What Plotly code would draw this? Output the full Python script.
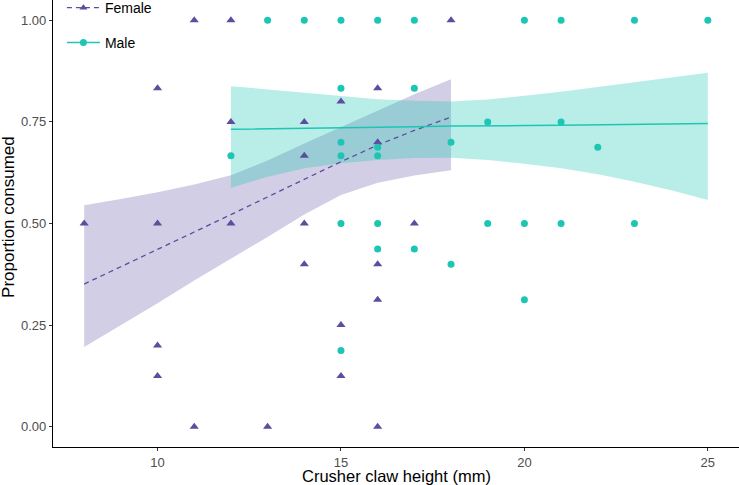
import plotly.graph_objects as go

# ---- observed data ----
female_x = [8, 10, 10, 10, 10, 11, 11, 12, 12, 12, 13, 14, 14, 14, 14, 15, 15, 15, 16, 16, 16, 16, 16, 17, 18]
female_y = [0.5, 0.833, 0.5, 0.2, 0.125, 1.0, 0.0, 1.0, 0.75, 0.5, 0.0, 0.75, 0.667, 0.5, 0.4, 0.8, 0.25, 0.125,
            0.833, 0.7, 0.4, 0.3125, 0.0, 0.5, 1.0]

male_x = [12, 13, 14, 15, 15, 15, 15, 15, 15, 16, 16, 16, 16, 16, 17, 17, 17, 18, 18, 19, 19, 20, 20, 20,
          21, 21, 21, 22, 23, 23, 25]
male_y = [0.667, 1.0, 1.0, 1.0, 0.833, 0.7, 0.667, 0.5, 0.1875, 1.0, 0.6875, 0.667, 0.5, 0.4375, 1.0, 0.833,
          0.4375, 0.7, 0.4, 0.75, 0.5, 1.0, 0.5, 0.3125, 1.0, 0.75, 0.5, 0.6875, 1.0, 0.5, 1.0]

# ---- fitted curves ----
female_fit_x = [8, 9, 10, 11, 12, 13, 14, 15, 16, 17, 18]
female_fit = [0.351, 0.393, 0.436, 0.479, 0.522, 0.566, 0.610, 0.652, 0.693, 0.729, 0.762]
female_upper = [0.545, 0.560, 0.577, 0.596, 0.619, 0.655, 0.697, 0.738, 0.779, 0.818, 0.855]
female_lower = [0.196, 0.250, 0.304, 0.360, 0.414, 0.467, 0.522, 0.570, 0.600, 0.618, 0.631]

male_fit_x = [12, 13, 14, 15, 16, 17, 18, 19, 20, 21, 22, 23, 24, 25]
male_fit = [0.732, 0.733, 0.734, 0.735, 0.736, 0.738, 0.740, 0.740, 0.741, 0.742, 0.743, 0.744, 0.745, 0.746]
male_upper = [0.838, 0.830, 0.822, 0.813, 0.806, 0.802, 0.800, 0.805, 0.814, 0.824, 0.836, 0.848, 0.860, 0.871]
male_lower = [0.588, 0.615, 0.636, 0.648, 0.656, 0.661, 0.662, 0.656, 0.647, 0.636, 0.621, 0.603, 0.582, 0.558]

x_ticks = [10, 15, 20, 25]
y_ticks = [0, 0.25, 0.5, 0.75, 1.0]
y_ticklabels = ["0.00", "0.25", "0.50", "0.75", "1.00"]

F_COL = "#5c4d9d"
M_COL = "#1dc6b4"
F_FILL = "rgba(94,79,162,0.28)"
M_FILL = "rgba(30,200,180,0.31)"
FONT = "Liberation Sans, Arial, Helvetica, sans-serif"

fig = go.Figure()

# ribbons
fig.add_trace(go.Scatter(x=female_fit_x + female_fit_x[::-1], y=female_upper + female_lower[::-1],
                         fill="toself", fillcolor=F_FILL, line=dict(width=0), mode="lines",
                         hoverinfo="skip", showlegend=False))
fig.add_trace(go.Scatter(x=male_fit_x + male_fit_x[::-1], y=male_upper + male_lower[::-1],
                         fill="toself", fillcolor=M_FILL, line=dict(width=0), mode="lines",
                         hoverinfo="skip", showlegend=False))
# fit lines
fig.add_trace(go.Scatter(x=female_fit_x, y=female_fit, mode="lines",
                         line=dict(color=F_COL, width=1.3, dash="5px,4px"), showlegend=False))
fig.add_trace(go.Scatter(x=male_fit_x, y=male_fit, mode="lines",
                         line=dict(color=M_COL, width=1.5), showlegend=False))
# points
fig.add_trace(go.Scatter(x=female_x, y=female_y, mode="markers",
                         marker=dict(symbol="triangle-up", size=8, color=F_COL), showlegend=False))
fig.add_trace(go.Scatter(x=male_x, y=male_y, mode="markers",
                         marker=dict(symbol="circle", size=7, color=M_COL), showlegend=False))
# legend entries
fig.add_trace(go.Scatter(x=[None], y=[None], mode="lines+markers", name="Female",
                         line=dict(color=F_COL, width=1.3, dash="5px,4px"),
                         marker=dict(symbol="triangle-up", size=7, color=F_COL), legend="legend"))
fig.add_trace(go.Scatter(x=[None], y=[None], mode="lines+markers", name="Male",
                         line=dict(color=M_COL, width=1.5),
                         marker=dict(symbol="circle", size=7, color=M_COL), legend="legend2"))

axis_common = dict(showgrid=False, zeroline=False, showline=True, linecolor="black", linewidth=1.2,
                   ticks="outside", ticklen=3, tickwidth=1, tickcolor="#333333", automargin=False,
                   tickfont=dict(family=FONT, size=13, color="#4d4d4d"))

fig.update_layout(
    width=739, height=485,
    margin=dict(l=53, r=0, t=0, b=38, autoexpand=False),
    plot_bgcolor="white", paper_bgcolor="white",
    font=dict(family=FONT, color="black"),
    xaxis=dict(range=[7.15, 25.85], tickvals=x_ticks, **axis_common),
    yaxis=dict(range=[-0.05, 1.05], tickvals=y_ticks, ticktext=y_ticklabels, **axis_common),
    legend=dict(x=0.013, y=0.982, xanchor="left", yanchor="middle", bgcolor="rgba(0,0,0,0)",
                font=dict(family=FONT, size=14, color="black"), itemwidth=33),
    legend2=dict(x=0.013, y=0.904, xanchor="left", yanchor="middle", bgcolor="rgba(0,0,0,0)",
                 font=dict(family=FONT, size=14, color="black"), itemwidth=33),
    annotations=[
        dict(text="Crusher claw height (mm)", xref="paper", yref="paper", x=0.5, y=-0.0875,
             xanchor="center", yanchor="bottom", showarrow=False, borderpad=0,
             font=dict(family=FONT, size=16.5, color="black")),
        dict(text="Proportion consumed", xref="paper", yref="paper", x=-0.064, y=0.515,
             xanchor="center", yanchor="middle", textangle=-90, showarrow=False,
             font=dict(family=FONT, size=17, color="black")),
    ],
)

fig.write_html("out.html", config={"displayModeBar": False},
               post_script="document.body.style.margin='0';document.body.style.padding='0';")
